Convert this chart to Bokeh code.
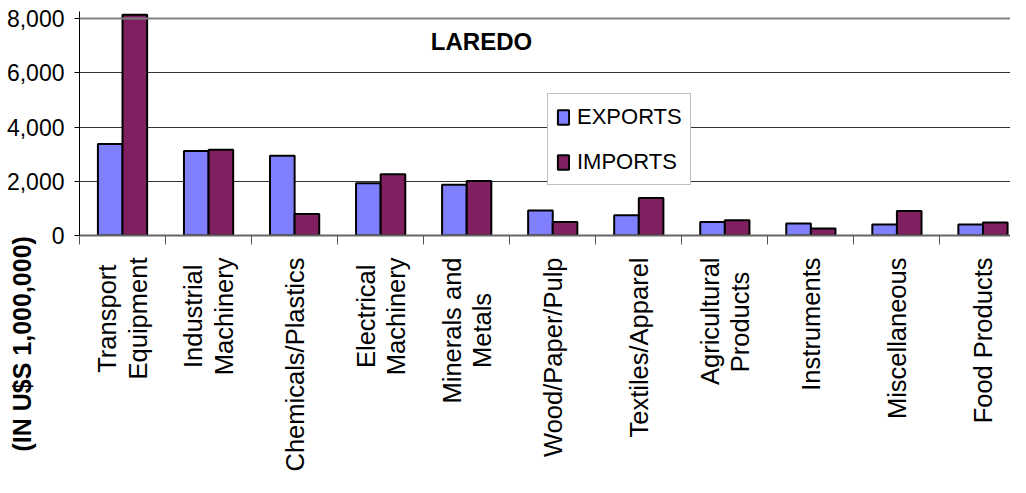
import math
from bokeh.plotting import figure
from bokeh.models import (Range1d, FixedTicker, NumeralTickFormatter, Label, Span, Title,
                          Legend, LegendItem, ColumnDataSource)
from bokeh.embed import file_html
from bokeh.resources import INLINE

# trailing spaces centre the shorter line of two-line labels
categories = ["Transport \nEquipment", "Industrial \nMachinery", "Chemicals/Plastics",
              "Electrical \nMachinery", "Minerals and\nMetals     ", "Wood/Paper/Pulp",
              "Textiles/Apparel", "Agricultural\nProducts  ", "Instruments",
              "Miscellaneous", "Food Products"]
exports = [3370, 3120, 2940, 1930, 1870, 920, 750, 500, 440, 410, 410]
imports = [8140, 3160, 790, 2260, 2010, 500, 1380, 560, 260, 900, 480]
y_ticks = [0, 2000, 4000, 6000, 8000]
title_text = "LAREDO"
y_title = "(IN U$S 1,000,000)"
series_names = ["EXPORTS", "IMPORTS"]
colors = ["#8080FF", "#802060"]

FONT = "Liberation Sans"
n = len(categories)
bar_w = 0.286
centers = [i + 0.5 for i in range(n)]

p = figure(width=1010, height=477, output_backend="svg", toolbar_location=None,
           x_range=Range1d(0, 10.82), y_range=Range1d(0, 8260),
           min_border_left=79, min_border_right=0, min_border_top=11, min_border_bottom=242)
p.outline_line_color = None
p.background_fill_color = "white"
p.border_fill_color = "white"

src_e = ColumnDataSource(dict(x=[c - bar_w / 2 for c in centers], top=exports))
src_i = ColumnDataSource(dict(x=[c + bar_w / 2 for c in centers], top=imports))
r_e = p.vbar(x="x", top="top", width=bar_w, bottom=0, source=src_e,
             fill_color=colors[0], line_color="black", line_width=2)
r_i = p.vbar(x="x", top="top", width=bar_w, bottom=0, source=src_i,
             fill_color=colors[1], line_color="black", line_width=2)

xa = p.xaxis[0]
xa.ticker = FixedTicker(ticks=centers, minor_ticks=list(range(n + 1)))
xa.major_label_overrides = {c: lab for c, lab in zip(centers, categories)}
xa.major_label_orientation = math.pi / 2
xa.major_tick_line_color = None
xa.major_tick_out = 0
xa.major_tick_in = 0
xa.minor_tick_line_color = "#555555"
xa.minor_tick_line_width = 1
xa.minor_tick_out = 9
xa.minor_tick_in = 0
xa.major_label_standoff = 13
xa.major_label_text_font = FONT
xa.major_label_text_font_size = "25.5px"
xa.major_label_text_color = "black"
xa.major_label_text_line_height = 1.08
xa.axis_line_color = "#666666"
xa.axis_line_width = 2

ya = p.yaxis[0]
ya.ticker = FixedTicker(ticks=y_ticks)
ya.formatter = NumeralTickFormatter(format="0,0")
ya.minor_tick_line_color = None
ya.major_tick_out = 5
ya.major_tick_in = 0
ya.major_tick_line_color = "black"
ya.axis_line_color = "black"
ya.axis_line_width = 1
ya.major_label_standoff = 10
ya.major_label_text_font = FONT
ya.major_label_text_font_size = "23px"
ya.major_label_text_color = "black"

p.xgrid.grid_line_color = None
p.ygrid.ticker = FixedTicker(ticks=y_ticks)
p.ygrid.grid_line_color = "#333333"
p.ygrid.grid_line_width = 1

p.add_layout(Span(location=y_ticks[-1], dimension="width", line_color="#808080", line_width=2))

p.add_layout(Label(x=402, y=194, x_units="screen", y_units="screen", text=title_text,
                   text_font=FONT, text_font_size="24px",
                   text_font_style="bold", text_align="center", text_baseline="middle",
                   text_color="black"))

ytitle = Title(text=y_title, align="left", vertical_align="bottom", offset=-216, standoff=-65,
               text_font=FONT, text_font_size="25px", text_font_style="bold",
               text_color="black")
p.add_layout(ytitle, "left")

legend = Legend(items=[LegendItem(label=series_names[0], renderers=[r_e]),
                       LegendItem(label=series_names[1], renderers=[r_i])],
                location=(468, 50), orientation="vertical",
                glyph_width=14, glyph_height=18, label_standoff=7, label_height=29,
                spacing=16, padding=8, margin=0,
                label_text_font=FONT, label_text_font_size="22px", label_text_color="black",
                border_line_color="#808080", border_line_width=1,
                background_fill_color="white", background_fill_alpha=1)
p.add_layout(legend)

open("out.html", "w").write(file_html(p, INLINE))
